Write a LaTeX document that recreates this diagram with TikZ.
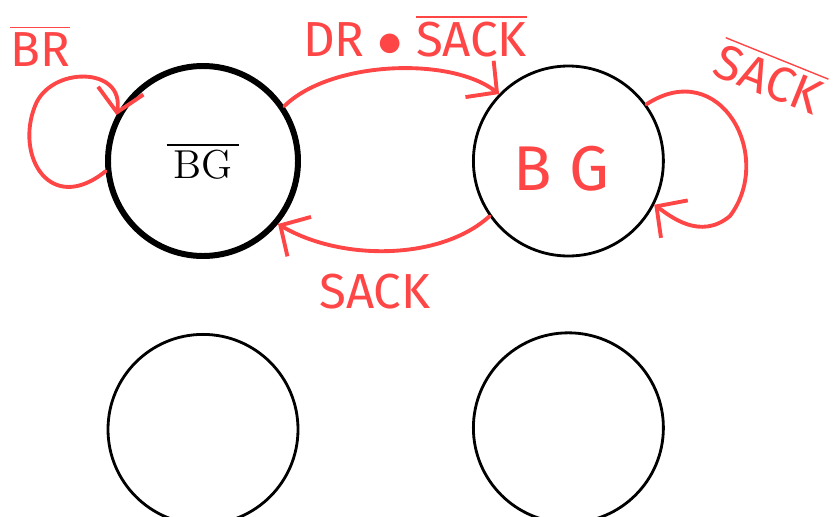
\documentclass[tikz,border=0pt]{standalone}
\usepackage{fontspec}
\usetikzlibrary{positioning, arrows.meta}
\usepackage{xcolor}
\newfontfamily\penfont{Fira Sans}
\definecolor{PenRed}{HTML}{FF4646}
\newcommand{\negbar}[1]{$\overline{\mbox{#1}}$}

\begin{document}
\begin{tikzpicture}[
  node distance=0.74cm and 1.71cm,
  state/.style={circle, draw=black, line width=0.8pt, minimum size=1.9cm,
    inner sep=0pt, font=\fontsize{11.5}{13}\selectfont},
  start/.style={state, line width=1.7pt},
  pen/.style={-{Straight Barb[length=2.2mm, width=4.6mm]}, draw=PenRed,
    line width=1.1pt, line cap=round},
  scrawl/.style={text=PenRed, font=\penfont\fontsize{14}{16}\selectfont,
    inner sep=1pt}
]
  \useasboundingbox (0,0) rectangle (8.34,5.16);

  % the four states
  \node[start] (idle) at (2.03,3.55) {\negbar{\,BG\,}};
  \node[state, right=of idle] (grant) {};
  \node[state, below=of idle] (s2) {};
  \node[state, below=of grant] (s3) {};
  \node[scrawl, font=\penfont\fontsize{18}{20}\selectfont,
    xshift=-0.07cm, yshift=-0.08cm] (gname) at (grant) {B G};

  % transitions
  \draw[pen] (idle.186) .. controls (0.5,3.0) and (0.15,3.6) .. (0.35,4.1)
    .. controls (0.5,4.5) and (1.25,4.5) .. (idle.152);
  \draw[pen] (idle.34) .. controls (3.3,4.55) and (4.5,4.6) .. (grant.136);
  \draw[pen] (grant.215) .. controls (4.4,2.55) and (3.4,2.55) .. (idle.-40);
  \draw[pen] (grant.36) .. controls (7.2,4.6) and (7.75,3.6) .. (7.3,3.0)
    .. controls (7.0,2.75) and (6.7,3.0) .. (grant.-27);

  % transition labels
  \node[scrawl] (lbr) at (0.4,4.7) {\negbar{BR}};
  \node[scrawl] (lreq) at (4.15,4.8) {DR $\bullet$ \negbar{SACK}};
  \node[scrawl] (lack) at (3.75,2.24) {SACK};
  \node[scrawl, rotate=-22] (lhold) at (7.7,4.4) {\negbar{SACK}};
\end{tikzpicture}
\end{document}
